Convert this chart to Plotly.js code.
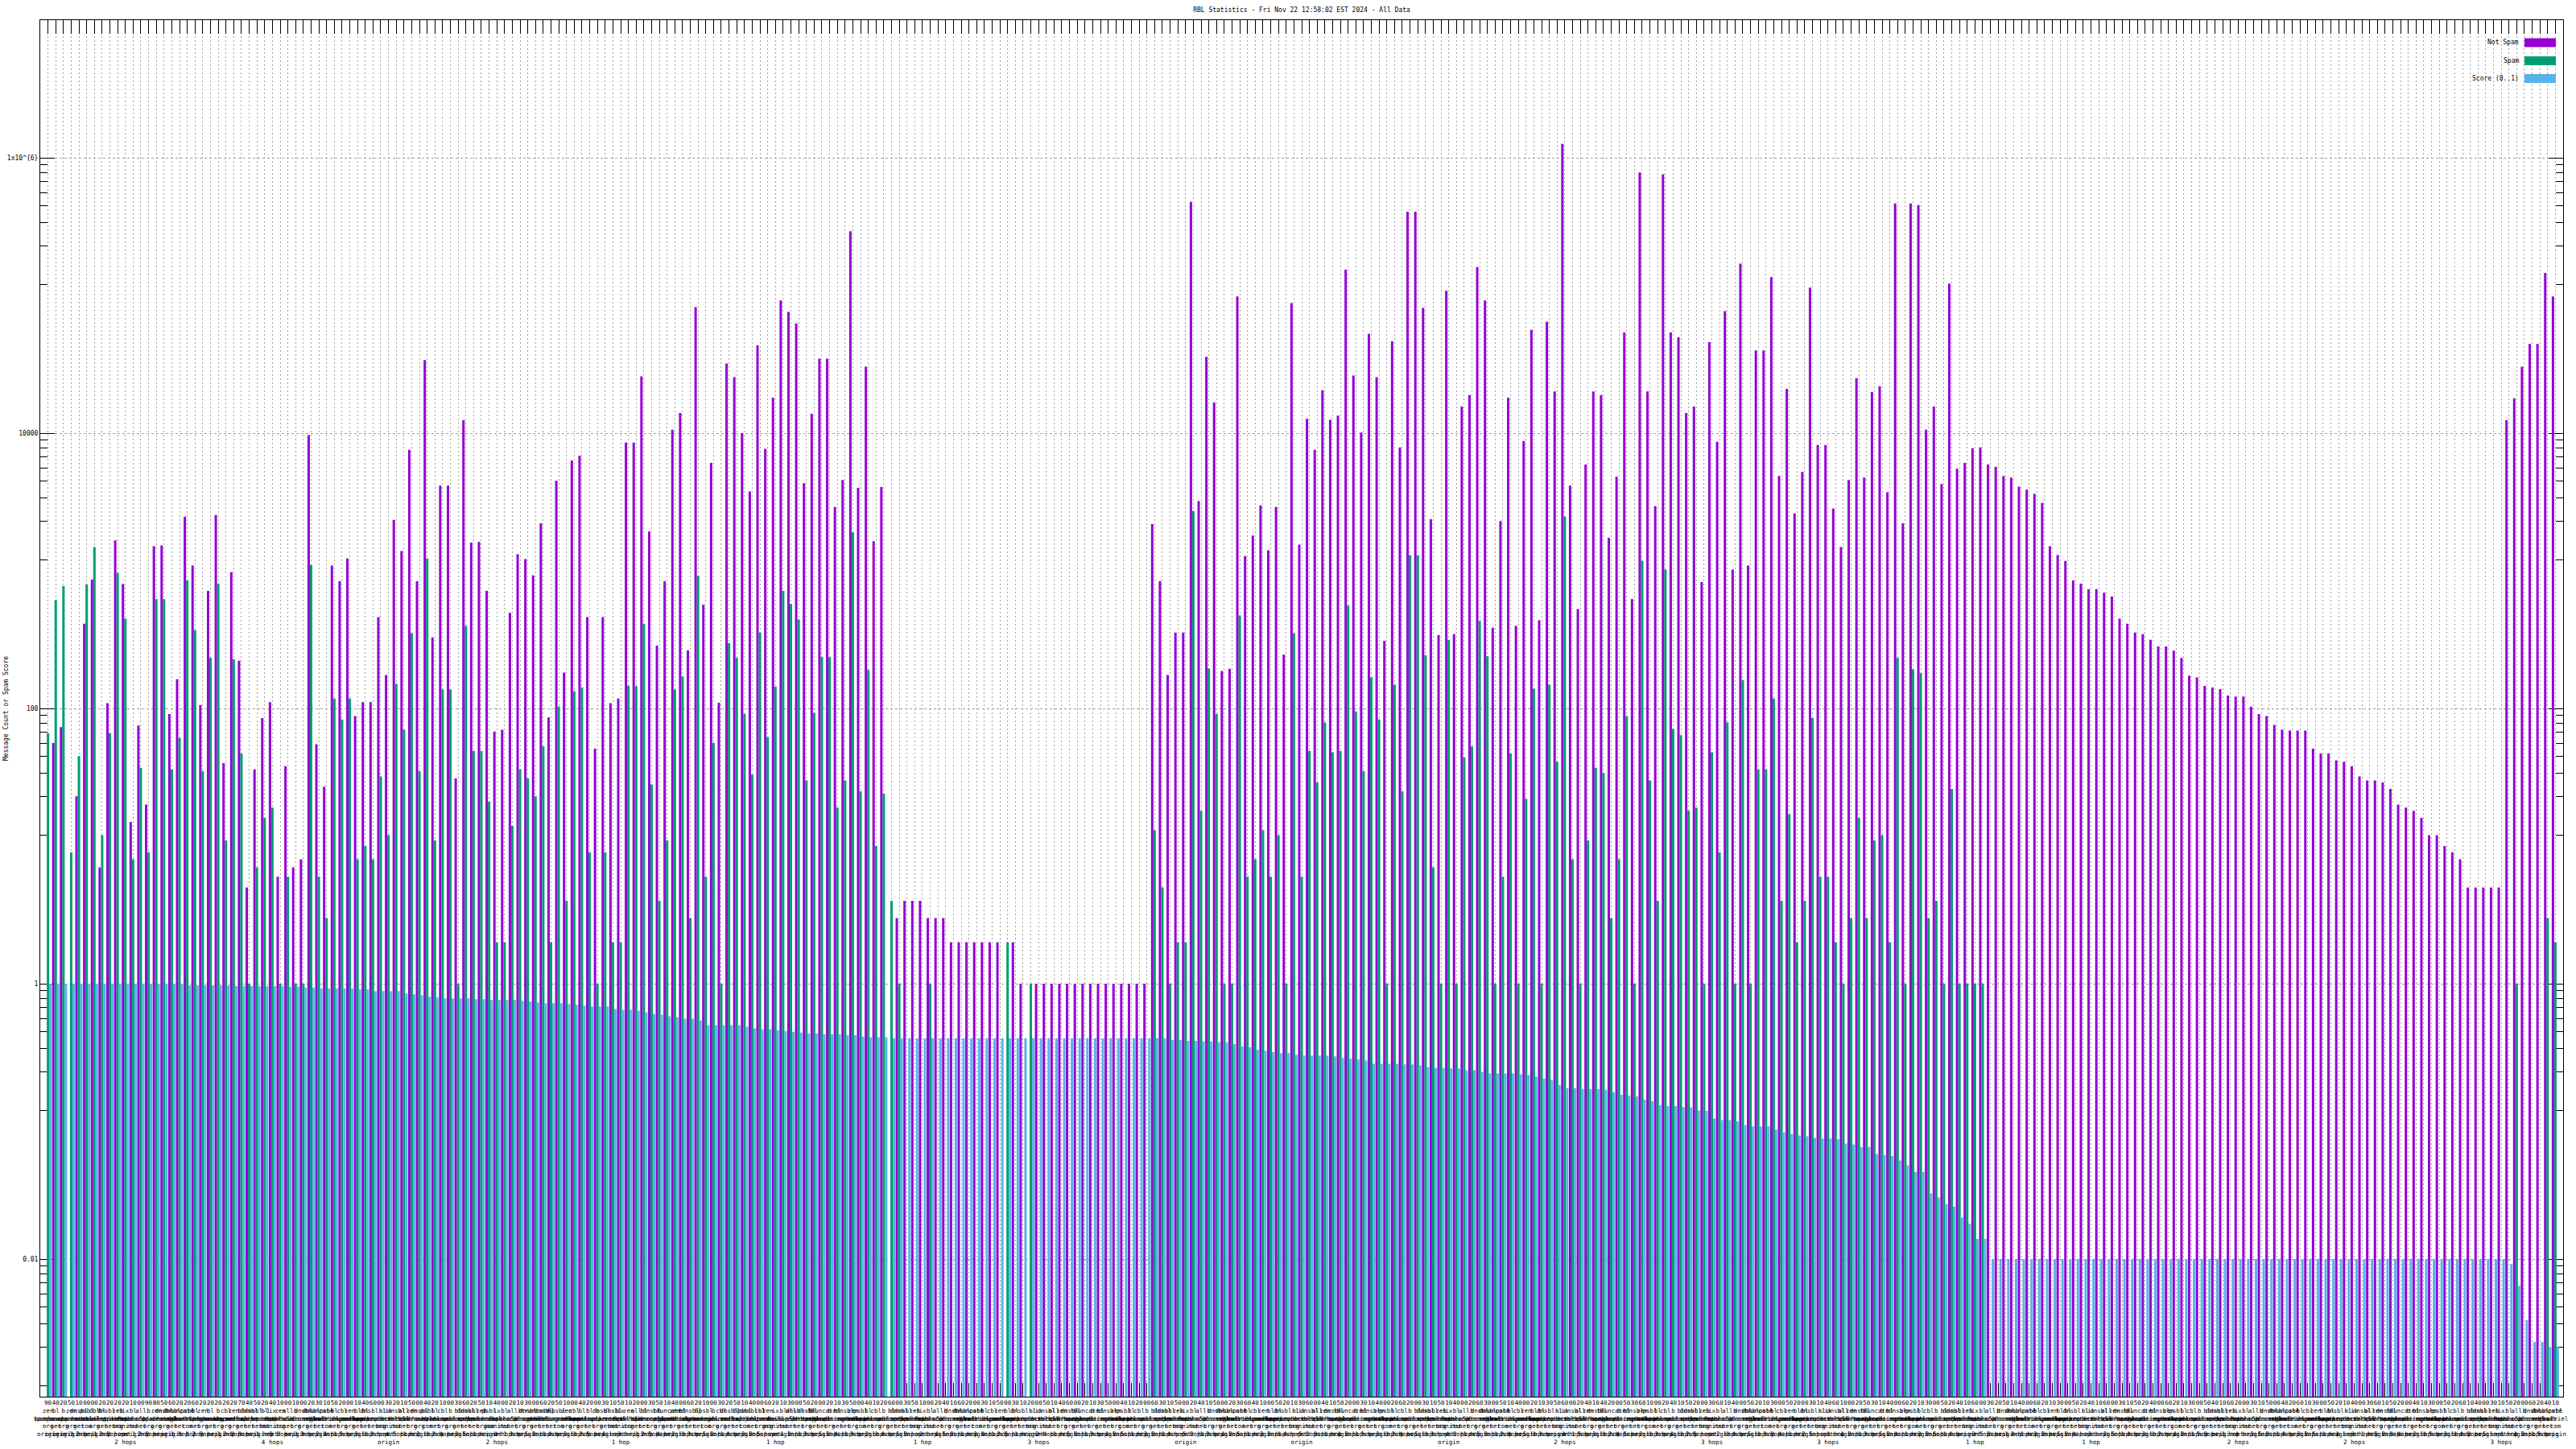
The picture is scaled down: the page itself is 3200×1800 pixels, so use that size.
<!DOCTYPE html>
<html><head><meta charset="utf-8">
<script src="https://cdn.plot.ly/plotly-3.0.1.min.js"></script>
<style>html,body{margin:0;padding:0;background:#fff}#chart{width:3200px;height:1800px}</style>
</head><body><div id="chart"></div>
<script>
const notSpam = [
null, 56, 73, null, 23, 413, 863, 7, 109, 1660,
800, 15, 75, 20, 1510, 1530, 91, 163, 2470, 1090,
106, 713, 2540, 40, 977, 222, 5, 36, 85, 111,
6, 38, 7, 8, 9660, 55, 27, 1090, 840, 1230,
88, 111, 111, 461, 175, 2340, 1390, 7560, 840, 33900,
328, 4150, 4150, 31, 12400, 1600, 1620, 713, 68, 70,
494, 1318, 1214, 925, 2215, 86, 4500, 182, 6330, 6870,
461, 51, 461, 109, 118, 8550, 8550, 25800, 1930, 286,
840, 10600, 14000, 264, 82400, 566, 6080, 110, 32100, 25500,
10000, 3770, 43400, 7700, 18100, 91800, 75900, 62700, 4320, 13800,
34800, 34800, 2910, 4560, 293000, 4000, 30400, 1640, 4060, null,
3, 4, 4, 4, 3, 3, 3, 2, 2, 2,
2, 2, 2, 2, null, 2, 1, null, 1, 1,
1, 1, 1, 1, 1, 1, 1, 1, 1, 1,
1, 1, 1, 2180, 840, 175, 356, 356, 479000, 3200,
35800, 16700, 187, 194, 98300, 1280, 1800, 2990, 1410, 2910,
246, 88100, 1550, 12700, 7560, 20500, 12500, 13400, 154000, 26200,
10100, 52500, 25500, 310, 46400, 7870, 406000, 406000, 81200, 2370,
341, 108000, 346, 15600, 18900, 161000, 91800, 386, 2300, 18100,
397, 8780, 56200, 437, 64400, 20100, 1260000, 4150, 528, 5910,
20100, 18900, 1730, 4820, 53900, 622, 782000, 20100, 2950, 760000,
53900, 49700, 14000, 15600, 829, 45800, 8660, 76900, 1020, 170000,
1090, 39900, 39900, 136000, 4890, 21000, 2610, 5230, 114000, 8200,
8200, 2830, 1490, 4560, 25100, 4760, 19900, 21900, 3720, 466000,
2215, 466000, 453000, 10600, 15600, 4260, 122000, 5520, 6080, 7770,
7870, 5910, 5680, 4890, 4760, 4090, 3880, 3620, 3110, 1510,
1300, 1180, 851, 807, 733, 733, 694, 649, 449, 413,
356, 346, 315, 282, 282, 263, 233, 173, 168, 146,
142, 138, 124, 122, 122, 103, 91, 88, 76, 70,
69, 69, 69, 51, 47, 47, 42, 41, 38, 32,
30, 30, 29, 26, 20, 19, 18, 16, 12, 12,
10, 9, 8, 5, 5, 5, 5, 5, 12400, 17900,
30400, 44500, 44500, 146000, 98300
];
const spam = [
66, 614, 774, 9, 45, 796, 1490, 12, 66, 963,
449, 8, 37, 9, 622, 622, 36, 61, 851, 371,
35, 233, 807, 11, 227, 47, 1, 7, 16, 19,
1, 6, 1, 1, 1100, 6, 3, 118, 83, 118,
8, 10, 8, 32, 12, 151, 70, 351, 35, 1230,
11, 137, 137, 1, 397, 49, 49, 21, 2, 2,
14, 36, 31, 23, 53, 2, 103, 4, 133, 142,
9, 1, 9, 2, 2, 146, 145, 413, 28, 4,
11, 137, 170, 3, 920, 6, 56, 1, 298, 233,
91, 33, 356, 62, 144, 713, 574, 443, 30, 93,
236, 236, 19, 30, 1905, 25, 190, 10, 24, 4,
1, null, null, null, 1, null, null, null, null, null,
null, null, null, null, 2, null, null, 1, null, null,
null, null, null, null, null, null, null, null, null, null,
null, null, null, 13, 5, 1, 2, 2, 2720, 18,
195, 91, 1, 1, 474, 6, 8, 13, 6, 12,
1, 351, 6, 49, 29, 79, 48, 49, 558, 95,
35, 168, 83, 1, 149, 25, 1300, 1300, 243, 7,
1, 315, 1, 44, 53, 431, 239, 1, 6, 47,
1, 22, 139, 1, 149, 41, 2470, 8, 1, 11,
37, 34, 3, 8, 88, 1, 1180, 30, 4, 1020,
71, 64, 18, 19, 1, 48, 9, 79, 1, 161,
1, 36, 36, 118, 4, 17, 2, 4, 85, 6,
6, 2, 1, 3, 16, 3, 11, 12, 2, 233,
1, 192, 180, 3, 4, 1, 26, 1, 1, 1,
1, null, null, null, null, null, null, null, null, null,
null, null, null, null, null, null, null, null, null, null,
null, null, null, null, null, null, null, null, null, null,
null, null, null, null, null, null, null, null, null, null,
null, null, null, null, null, null, null, null, null, null,
null, null, null, null, null, null, null, null, null, null,
null, null, null, null, null, null, null, null, null, 1,
null, null, null, 3, 2
];
const score = [
1, 1, 1, 1, 1, 1, 1, 1, 1, 1,
1, 1, 1, 1, 1, 1, 1, 1, 0.973, 0.973,
0.973, 0.973, 0.973, 0.973, 0.96, 0.96, 0.96, 0.96, 0.96, 0.96,
0.96, 0.947, 0.955, 0.934, 0.934, 0.921, 0.921, 0.921, 0.921, 0.921,
0.909, 0.909, 0.884, 0.884, 0.884, 0.884, 0.849, 0.838, 0.826, 0.804,
0.793, 0.782, 0.782, 0.782, 0.782, 0.772, 0.772, 0.761, 0.761, 0.761,
0.761, 0.751, 0.741, 0.731, 0.721, 0.721, 0.721, 0.711, 0.702, 0.692,
0.683, 0.683, 0.683, 0.655, 0.646, 0.646, 0.638, 0.621, 0.604, 0.596,
0.580, 0.572, 0.556, 0.556, 0.541, 0.499, 0.499, 0.499, 0.499, 0.499,
0.486, 0.473, 0.466, 0.466, 0.460, 0.454, 0.448, 0.441, 0.435, 0.435,
0.430, 0.430, 0.430, 0.424, 0.424, 0.412, 0.407, 0.407, 0.407, 0.401,
0.401, 0.401, 0.401, 0.401, 0.401, 0.401, 0.401, 0.401, 0.401, 0.401,
0.401, 0.401, 0.401, 0.401, 0.401, 0.401, 0.401, 0.401, 0.401, 0.401,
0.401, 0.401, 0.401, 0.401, 0.401, 0.401, 0.401, 0.401, 0.401, 0.401,
0.401, 0.401, 0.401, 0.401, 0.401, 0.391, 0.391, 0.385, 0.385, 0.38,
0.38, 0.375, 0.375, 0.364, 0.35, 0.345, 0.331, 0.326, 0.318, 0.313,
0.313, 0.305, 0.301, 0.301, 0.301, 0.301, 0.297, 0.289, 0.285, 0.281,
0.277, 0.262, 0.262, 0.262, 0.262, 0.259, 0.259, 0.255, 0.248, 0.245,
0.245, 0.242, 0.242, 0.235, 0.235, 0.229, 0.223, 0.223, 0.223, 0.223,
0.22, 0.217, 0.211, 0.205, 0.2, 0.184, 0.174, 0.174, 0.172, 0.172,
0.172, 0.17, 0.163, 0.156, 0.154, 0.152, 0.144, 0.14, 0.131, 0.129,
0.129, 0.127, 0.126, 0.12, 0.119, 0.105, 0.102, 0.102, 0.1, 0.094,
0.092, 0.092, 0.092, 0.087, 0.083, 0.081, 0.079, 0.078, 0.076, 0.075,
0.075, 0.074, 0.069, 0.068, 0.065, 0.065, 0.058, 0.057, 0.056, 0.052,
0.048, 0.043, 0.043, 0.030, 0.028, 0.025, 0.024, 0.020, 0.018, 0.014,
0.014, 0.01, 0.01, 0.01, 0.01, 0.01, 0.01, 0.01, 0.01, 0.01,
0.01, 0.01, 0.01, 0.01, 0.01, 0.01, 0.01, 0.01, 0.01, 0.01,
0.01, 0.01, 0.01, 0.01, 0.01, 0.01, 0.01, 0.01, 0.01, 0.01,
0.01, 0.01, 0.01, 0.01, 0.01, 0.01, 0.01, 0.01, 0.01, 0.01,
0.01, 0.01, 0.01, 0.01, 0.01, 0.01, 0.01, 0.01, 0.01, 0.01,
0.01, 0.01, 0.01, 0.01, 0.01, 0.01, 0.01, 0.01, 0.01, 0.01,
0.01, 0.01, 0.01, 0.01, 0.01, 0.01, 0.01, 0.01, 0.0092, 0.0064,
0.0036, 0.0025, 0.0025, 0.0023, 0.0023
];

// category label pieces: first-line tag digit, RBL host (letter code), hop position (0 = origin)
const rblHosts = {
  a: "zen.spamhaus.org", b: "bl.spamcop.net", c: "b.barracudacentral.org", d: "dnsbl.sorbs.net",
  e: "psbl.surriel.com", f: "cbl.abuseat.org", g: "bl.mailspike.net", h: "dnsbl-1.uceprotect.net",
  i: "ix.dnsbl.manitu.net", j: "all.s5h.net", k: "dnsbl.dronebl.org", l: "truncate.gbudb.net",
  m: "bl.spameatingmonkey.net"
};
const hopNames = ["origin", "1 hop", "2 hops", "3 hops", "4 hops", "5 hops"];
const catTag =
  "9425100222210985622622222" + "7452410102315201460321504" + "2103625140213062510420315" +
  "1203514062103251406213052" + "0213504126035102416203150" + "3120514602135041206315024" +
  "1502364105213604152031402" + "6203151402630514021356024" + "1420536102415203614052130" +
  "5203146102531406213052416" + "0325140621305241603152406" + "2130541620315042613052140" +
  "3615204130526140315206241";
const catRbl =
  "abcadefghaibjcakdlemabcfa" + "gdhbiajckdlemfagbhcidjake" + "bfcgdhaeibjckldmeafbgchdi" +
  "ajbkclamdbecfdgehfaigjhkb" + "lcmdaebfcgdhaibjckdlemfag" + "bhcidjakblcmdaebfcgdhaibj" +
  "ckdlemfagbhcidjakblcmdaeb" + "fcgdhaibjckdlemfagbhcidja" + "kblcmdaebfcgdhaibjckdlemf" +
  "agbhcidjakblcmdaebfcgdhai" + "bjckdlemfagbhcidjakblcmda" + "ebfcgdhaibjckdlemfagbhcid" +
  "jakblcmdaebfcgdhaibjckdle";
const catHop =
  "0000120122201220011123012" + "2301452013024150312045102" + "1240351024130521403125041" +
  "3012540213052140325104213" + "0524130214053120452103412" + "5103241052130425103214052" +
  "1304251032140523104215031" + "2405130421053124051302415" + "0312450213041253021405132" +
  "4102531042130524103251401" + "3520141032052413025140312" + "0421530124035214032510423" +
  "1052340215031420531042150";

const seriesNames = ["Not Spam", "Spam", "Score (0..1)"];
const seriesColors = ["#9400d3", "#009e73", "#56b4e9"];
const yTickVals = [0.01, 1, 100, 10000, 1000000];
const yTickText = ["0.01", "1", "100", "10000", "1x10^{6}"];

const idx = notSpam.map((_, i) => i);
const labels = idx.map(i => {
  const host = rblHosts[catRbl[i] || "a"];
  const hop = hopNames[+(catHop[i] || 0)];
  return [(catTag[i] || "0") + "0"].concat(host.split("."), [hop]).join("<br>");
});
const minorVals = [];
[1e-4, 1e-2, 1, 100, 1e4].forEach(b => { for (let j = 1; j <= 8; j++) minorVals.push(b * (1 + 11 * j)); });

const mono = "DejaVu Sans Mono, monospace";
const traces = [notSpam, spam, score].map((d, k) => ({
  type: "bar", x: idx, y: d, name: seriesNames[k],
  marker: {color: seriesColors[k], line: {width: 0}}, hoverinfo: "skip", showlegend: false
}));

const L = 50, R = 3184, T = 25, B = 1735;
const px = v => (v - L) / (R - L);
const py = v => (B - v) / (B - T);
const legendRows = [53, 75.5, 97.5];
const shapes = legendRows.map((y, k) => ({
  type: "rect", xref: "paper", yref: "paper", x0: px(3136), x1: px(3175), y0: py(y + 5.5), y1: py(y - 5.5),
  fillcolor: seriesColors[k], line: {width: 0}
}));
const annotations = legendRows.map((y, k) => ({
  xref: "paper", yref: "paper", x: px(3131), y: py(y), xanchor: "right", yanchor: "middle",
  text: seriesNames[k], showarrow: false, font: {family: mono, size: 8, color: "#000"}
}));
annotations.push({
  xref: "paper", yref: "paper", x: px(7), y: 0.5, xanchor: "center", yanchor: "middle", textangle: -90,
  text: "Message Count or Spam Score", showarrow: false, font: {family: mono, size: 8, color: "#000"}
});

const layout = {
  width: 3200, height: 1800,
  margin: {l: L, r: 3200 - R, t: T, b: 1800 - B, pad: 0},
  paper_bgcolor: "#fff", plot_bgcolor: "#fff",
  font: {family: mono, size: 8, color: "#000"},
  title: {text: "RBL Statistics - Fri Nov 22 12:58:02 EST 2024 - All Data", x: 0.5, xref: "paper",
          y: 1 - 12 / 1800, yref: "container", yanchor: "middle", font: {family: mono, size: 8, color: "#000"}},
  barmode: "group", bargap: 0.06, bargroupgap: 0,
  xaxis: {range: [-1, idx.length], tickmode: "array", tickvals: idx, ticktext: labels,
          ticks: "inside", ticklen: 17, tickcolor: "#000", tickwidth: 1, mirror: "ticks",
          showline: true, linecolor: "#000", linewidth: 1, showgrid: true, gridcolor: "#a0a0a0",
          griddash: "2px,3px", gridwidth: 1, zeroline: false, tickangle: 0, layer: "below traces",
          tickfont: {family: mono, size: 7.5, color: "#000"}, automargin: false},
  yaxis: {type: "log", range: [-3, 7], tickmode: "array", tickvals: yTickVals, ticktext: yTickText,
          ticks: "inside", ticklen: 18, tickcolor: "#000", tickwidth: 1, mirror: "ticks",
          showline: true, linecolor: "#000", linewidth: 1, showgrid: true, gridcolor: "#a0a0a0",
          griddash: "3px,3px", gridwidth: 1, zeroline: false, layer: "below traces",
          minor: {tickmode: "array", tickvals: minorVals, ticks: "inside", ticklen: 9, tickcolor: "#000", showgrid: false},
          tickfont: {family: mono, size: 8, color: "#000"}, automargin: false},
  shapes: shapes, annotations: annotations
};
Plotly.newPlot("chart", traces, layout, {staticPlot: true, displayModeBar: false});
</script></body></html>
